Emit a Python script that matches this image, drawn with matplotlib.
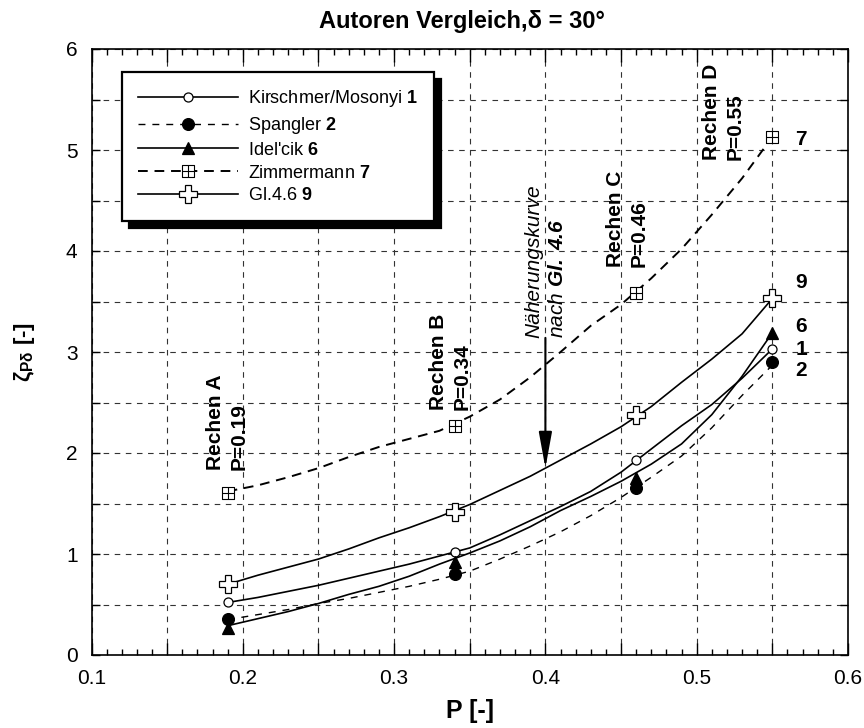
import matplotlib
matplotlib.use("Agg")
import matplotlib.pyplot as plt
from matplotlib.path import Path
from matplotlib.lines import Line2D

plt.rcParams['font.family'] = ['Liberation Sans', 'DejaVu Sans']
plt.rcParams['mathtext.fontset'] = 'custom'
plt.rcParams['mathtext.rm'] = 'Liberation Sans'
plt.rcParams['mathtext.it'] = 'Liberation Sans:italic'
plt.rcParams['mathtext.bf'] = 'Liberation Sans:bold'
plt.rcParams['mathtext.bfit'] = 'Liberation Sans:italic:bold'
plt.rcParams['mathtext.default'] = 'bf'

# ---------------- data ----------------
rechen_names = ["Rechen A", "Rechen B", "Rechen C", "Rechen D"]
p_values = [0.19, 0.34, 0.46, 0.55]

kirschmer_pts = [0.52, 1.02, 1.93, 3.03]
spangler_pts = [0.36, 0.80, 1.65, 2.90]
idelcik_pts = [0.27, 0.92, 1.75, 3.19]
zimmermann_pts = [1.60, 2.27, 3.58, 5.13]
gl46_pts = [0.70, 1.42, 2.38, 3.53]

curve_p = [0.19, 0.21, 0.23, 0.25, 0.27, 0.29, 0.31, 0.33, 0.35, 0.37,
           0.39, 0.41, 0.43, 0.45, 0.47, 0.49, 0.51, 0.53, 0.55]
kirschmer_curve = [0.52, 0.57, 0.63, 0.69, 0.76, 0.83, 0.90, 0.98, 1.06, 1.19,
                   1.33, 1.47, 1.62, 1.81, 2.04, 2.27, 2.48, 2.74, 3.03]
spangler_curve = [0.35, 0.40, 0.45, 0.51, 0.56, 0.62, 0.68, 0.75, 0.83, 0.95,
                  1.08, 1.22, 1.38, 1.56, 1.76, 1.97, 2.25, 2.57, 2.87]
idelcik_curve = [0.29, 0.36, 0.43, 0.51, 0.60, 0.68, 0.78, 0.90, 1.01, 1.13,
                 1.27, 1.43, 1.57, 1.72, 1.89, 2.09, 2.38, 2.76, 3.19]
zimmermann_curve = [1.62, 1.68, 1.76, 1.85, 1.96, 2.06, 2.14, 2.22, 2.36, 2.53,
                    2.75, 3.00, 3.26, 3.47, 3.73, 4.02, 4.36, 4.72, 5.13]
gl46_curve = [0.70, 0.79, 0.87, 0.95, 1.05, 1.16, 1.26, 1.37, 1.49, 1.63,
              1.77, 1.93, 2.09, 2.26, 2.46, 2.70, 2.93, 3.18, 3.53]

series_labels = ["Kirschmer/Mosonyi", "Spangler", "Idel'cik", "Zimmermann", "Gl.4.6"]
series_numbers = ["1", "2", "6", "7", "9"]

x_major = [0.1, 0.15, 0.2, 0.25, 0.3, 0.35, 0.4, 0.45, 0.5, 0.55, 0.6]
x_major_labels = ["0.1", "", "0.2", "", "0.3", "", "0.4", "", "0.5", "", "0.6"]
y_major = [0, 0.5, 1, 1.5, 2, 2.5, 3, 3.5, 4, 4.5, 5, 5.5, 6]
y_major_labels = ["0", "", "1", "", "2", "", "3", "", "4", "", "5", "", "6"]

# ---------------- figure ----------------
W, H = 864, 728
fig = plt.figure(figsize=(W / 100, H / 100), dpi=100)
ax = fig.add_axes([91.5 / W, 1 - 655 / H, 756.5 / W, 606 / H])
ax.set_xlim(0.1, 0.6)
ax.set_ylim(0, 6)

ax.set_xticks(x_major)
ax.set_xticklabels(x_major_labels)
ax.set_xticks([0.1 + 0.01 * i for i in range(51)], minor=True)
ax.set_yticks(y_major)
ax.set_yticklabels(y_major_labels)
ax.tick_params(which='both', direction='in', top=True, right=True, labelsize=15, width=1.0, pad=10)
ax.tick_params(axis='x', which='major', length=9)
ax.tick_params(axis='x', which='minor', length=4.5)
ax.tick_params(axis='y', which='major', length=6)
ax.grid(True, which='major', linestyle=(0, (5, 5)), linewidth=0.8, color='#333333')
for s in ax.spines.values():
    s.set_linewidth(1.2)

# zimmermann marker: square with cross
zm_path = Path([(-1, -1), (1, -1), (1, 1), (-1, 1), (-1, -1), (0, -1), (0, 1), (-1, 0), (1, 0)],
               [Path.MOVETO, Path.LINETO, Path.LINETO, Path.LINETO, Path.CLOSEPOLY,
                Path.MOVETO, Path.LINETO, Path.MOVETO, Path.LINETO])

styles = [
    dict(ls='-', lw=1.2, marker='o', ms=6.5, mfc='white', mec='black', mew=0.9),
    dict(ls=(0, (5, 5)), lw=1.0, marker='o', ms=8.5, mfc='black', mec='black', mew=0.9),
    dict(ls='-', lw=1.2, marker='^', ms=8.5, mfc='black', mec='black', mew=0.9),
    dict(ls=(0, (5, 3.5)), lw=1.4, marker=zm_path, ms=9, mfc='white', mec='black', mew=0.8),
    dict(ls='-', lw=1.2, marker='P', ms=13, mfc='white', mec='black', mew=0.9),
]
curves = [kirschmer_curve, spangler_curve, idelcik_curve, zimmermann_curve, gl46_curve]
points = [kirschmer_pts, spangler_pts, idelcik_pts, zimmermann_pts, gl46_pts]

handles = []
for st, cv, pts, lab, num in zip(styles, curves, points, series_labels, series_numbers):
    ax.plot(curve_p, cv, color='black', ls=st['ls'], lw=st['lw'], zorder=3)
    ax.plot(p_values, pts, ls='none', marker=st['marker'], ms=st['ms'], mfc=st['mfc'],
            mec=st['mec'], mew=st['mew'], zorder=4)
    handles.append(Line2D([], [], color='black', label=lab + r" $\mathbf{" + num + "}$", **st))

leg = ax.legend(handles=handles, loc='upper left', bbox_to_anchor=(122 / W, 1 - 72 / H),
                bbox_transform=fig.transFigure, borderaxespad=0, fontsize=13, numpoints=1,
                handlelength=5.5, handletextpad=0.6, labelspacing=0.32, borderpad=0.9,
                fancybox=False, framealpha=1, edgecolor='black',
                shadow={'ox': 5, 'oy': -5, 'shade': 1.0, 'alpha': 1})
leg.get_frame().set_linewidth(1.6)
leg.set_zorder(10)

# Rechen annotations
rechen_x = [0.19, 0.337, 0.454, 0.5175]
rechen_y = [1.83, 2.43, 3.84, 4.90]
for name, p, xx, yy in zip(rechen_names, p_values, rechen_x, rechen_y):
    ax.text(xx, yy, f"{name}\nP={p:.2f}", rotation=90, ha='center', va='bottom',
            multialignment='left', fontsize=15, fontweight='bold', linespacing=1.3, zorder=6)

# series numbers at right
number_y = [3.02, 2.82, 3.25, 5.10, 3.69]
for num, yy in zip(series_numbers, number_y):
    ax.text(0.569, yy, num, ha='center', va='center', fontsize=15, fontweight='bold', zorder=6)

# Naeherungskurve arrow
ax.annotate("", xy=(0.4, 1.85), xytext=(0.4, 3.14),
            arrowprops=dict(arrowstyle="-|>,head_length=1.1,head_width=0.2", color='black',
                            lw=1.5, mutation_scale=20, shrinkA=0, shrinkB=0), zorder=6)
ax.text(0.4, 3.14, "Näherungskurve\nnach $\\mathbfit{Gl.\\ 4.6}$", rotation=90, ha='center',
        va='bottom', multialignment='left', fontsize=15, style='italic', linespacing=1.3, zorder=6)

ax.set_title("Autoren Vergleich,δ = 30°", fontsize=17, fontweight='bold', pad=15, x=0.49)
ax.set_xlabel("P [-]", fontsize=18, fontweight='bold')
ax.xaxis.set_label_coords(0.5, -0.072)
ax.set_ylabel(r"$\zeta_{P\delta}$ [-]", fontsize=16, fontweight='bold')
ax.yaxis.set_label_coords(-0.072, 0.5)

fig.savefig("out.png", dpi=100)
